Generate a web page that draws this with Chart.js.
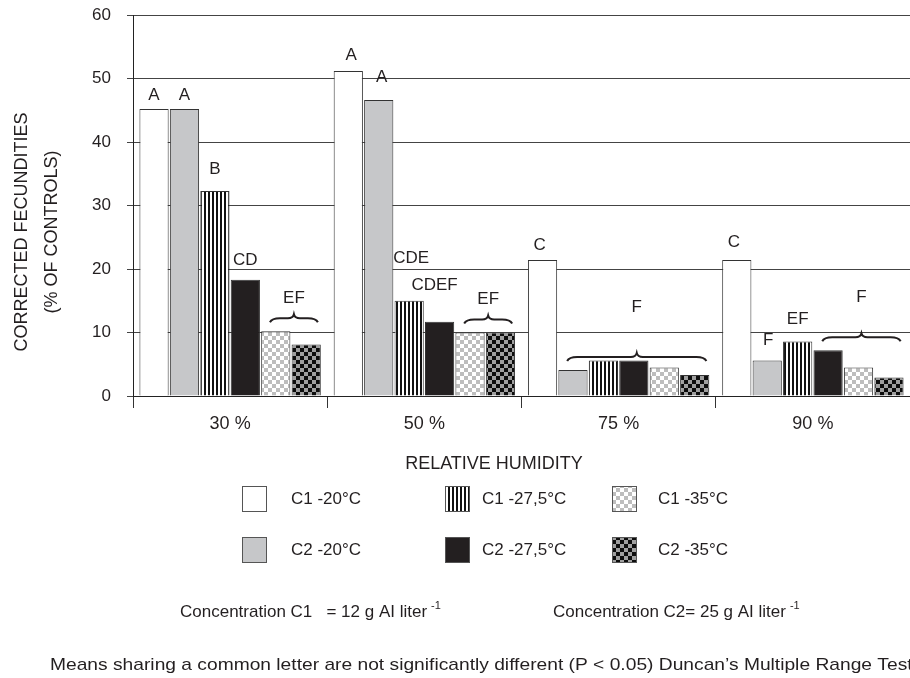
<!DOCTYPE html>
<html>
<head>
<meta charset="utf-8">
<script src="https://cdn.jsdelivr.net/npm/chart.js@4.4.1/dist/chart.umd.min.js"></script>
<style>
  body { margin: 0; background: #fff; overflow: hidden; }
  canvas { display: block; }
</style>
</head>
<body>
<canvas id="grafico" width="910" height="678"></canvas>
<script>
// datos
const humedades = ['30 %', '50 %', '75 %', '90 %'];
const nombres = ['C1 -20°C', 'C2 -20°C', 'C1 -27,5°C', 'C2 -27,5°C', 'C1 -35°C', 'C2 -35°C'];
const c1_20 = [45.2, 51.2, 21.4, 21.4];
const c2_20 = [45.2, 46.6, 4.1, 5.6];
const c1_275 = [32.3, 15.0, 5.6, 8.6];
const c2_275 = [18.3, 11.7, 5.6, 7.2];
const c1_35 = [10.2, 10.0, 4.5, 4.5];
const c2_35 = [8.1, 10.0, 3.3, 2.9];
const marcasY = [0, 10, 20, 30, 40, 50, 60];

// letras de Duncan: categoria, barras que cubre, texto
const letras = [
  { cat: 0, barras: [0], texto: 'A' },
  { cat: 0, barras: [1], texto: 'A' },
  { cat: 0, barras: [2], texto: 'B' },
  { cat: 0, barras: [3], texto: 'CD' },
  { cat: 0, barras: [4, 5], texto: 'EF' },
  { cat: 1, barras: [0], texto: 'A' },
  { cat: 1, barras: [1], texto: 'A' },
  { cat: 1, barras: [2], texto: 'CDE' },
  { cat: 1, barras: [3], texto: 'CDEF' },
  { cat: 1, barras: [4, 5], texto: 'EF' },
  { cat: 2, barras: [0], texto: 'C' },
  { cat: 2, barras: [1, 5], texto: 'F' },
  { cat: 3, barras: [0], texto: 'C' },
  { cat: 3, barras: [1], texto: 'F' },
  { cat: 3, barras: [2], texto: 'EF' },
  { cat: 3, barras: [3, 5], texto: 'F' }
];
// separacion de cada letra sobre su barra (px) y desplazamiento horizontal
const alturaLetra = [14, 14, 22, 19, 33, 16, 23, 42, 36, 33, 15, 63, 18, 20, 22, 53];
const corrimiento = [0, 0, 0, 0, 0, 3, 3, 2, -5, 0, -3, 0, -3, 1, 0, 0];

const ctx = document.getElementById('grafico').getContext('2d');
const fuente = '"Liberation Sans", Arial, sans-serif';
const tinta = '#231f20';

function patron(ancho, alto, dibujar) {
  const c = document.createElement('canvas');
  c.width = ancho;
  c.height = alto;
  dibujar(c.getContext('2d'));
  return ctx.createPattern(c, 'repeat');
}

const rayas = patron(4, 4, g => {
  g.fillStyle = '#fff'; g.fillRect(0, 0, 4, 4);
  g.fillStyle = '#111'; g.fillRect(0, 0, 2, 4);
});
const cuadrosClaros = patron(8, 8, g => {
  g.fillStyle = '#fff'; g.fillRect(0, 0, 8, 8);
  g.fillStyle = '#bdbdbd'; g.fillRect(0, 0, 4, 4); g.fillRect(4, 4, 4, 4);
});
const cuadrosOscuros = patron(8, 8, g => {
  g.fillStyle = '#9f9f9f'; g.fillRect(0, 0, 8, 8);
  g.fillStyle = '#0d0d0d'; g.fillRect(0, 0, 4, 4); g.fillRect(4, 4, 4, 4);
});

const valores = [c1_20, c2_20, c1_275, c2_275, c1_35, c2_35];
const rellenos = ['#ffffff', '#c6c7c9', rayas, tinta, cuadrosClaros, cuadrosOscuros];

function llave(g, x1, x2, y) {
  const m = (x1 + x2) / 2;
  g.beginPath();
  g.moveTo(x1, y + 4);
  g.quadraticCurveTo(x1 + 2, y, x1 + 10, y);
  g.lineTo(m - 6, y);
  g.quadraticCurveTo(m - 1, y, m, y - 4);
  g.quadraticCurveTo(m + 1, y, m + 6, y);
  g.lineTo(x2 - 10, y);
  g.quadraticCurveTo(x2 - 2, y, x2, y + 4);
  g.stroke();
}

function textoSuper(g, x, y, base, sup) {
  g.font = '17px ' + fuente;
  g.textAlign = 'left';
  g.fillText(base, x, y);
  const w = g.measureText(base).width;
  g.font = '11px ' + fuente;
  g.fillText(sup, x + w + 4, y - 6);
}

const anotaciones = {
  id: 'anotaciones',
  afterDraw(chart) {
    const g = chart.ctx;
    g.save();
    g.fillStyle = tinta;
    g.strokeStyle = tinta;
    g.textBaseline = 'middle';
    g.textAlign = 'center';

    // letras y llaves
    letras.forEach((l, i) => {
      const barras = l.barras.map(b => chart.getDatasetMeta(b).data[l.cat]);
      const tope = Math.min(...barras.map(b => b.y));
      g.font = '17px ' + fuente;
      if (barras.length > 1) {
        const izq = barras[0].x - barras[0].width * 0.2;
        const der = barras[barras.length - 1].x + barras[barras.length - 1].width * 0.4;
        g.lineWidth = 2;
        llave(g, izq, der, tope - 13);
        g.fillText(l.texto, (izq + der) / 2, tope - alturaLetra[i]);
      } else {
        g.fillText(l.texto, barras[0].x + corrimiento[i], tope - alturaLetra[i]);
      }
    });

    // titulos de los ejes
    g.font = '18px ' + fuente;
    g.save();
    g.translate(22, 232);
    g.rotate(-Math.PI / 2);
    g.fillText('CORRECTED FECUNDITIES', 0, 0);
    g.fillText('(% OF CONTROLS)', 0, 30);
    g.restore();
    g.fillText('RELATIVE HUMIDITY', 494, 464);

    // leyenda en dos filas
    const columnas = [[242, 291], [445, 482], [612, 658]];
    const filas = [498, 549];
    const orden = [0, 2, 4, 1, 3, 5];
    orden.forEach((d, k) => {
      const col = columnas[k % 3];
      const fy = filas[Math.floor(k / 3)];
      g.fillStyle = rellenos[d];
      g.fillRect(col[0], fy - 12, 24, 25);
      g.lineWidth = 1;
      g.strokeStyle = '#555';
      g.strokeRect(col[0] + 0.5, fy - 11.5, 24, 25);
      g.fillStyle = tinta;
      g.textAlign = 'left';
      g.font = '17px ' + fuente;
      g.fillText(nombres[d], col[1], fy + 1);
    });

    // notas al pie
    textoSuper(g, 180, 612, 'Concentration C1   = 12 g AI liter', '-1');
    textoSuper(g, 553, 612, 'Concentration C2= 25 g AI liter', '-1');
    g.save();
    g.translate(50, 665);
    g.scale(1.13, 1);
    g.font = '17px ' + fuente;
    g.textAlign = 'left';
    g.fillText('Means sharing a common letter are not significantly different (P < 0.05) Duncan\u2019s Multiple Range Test', 0, 0);
    g.restore();
    g.restore();
  }
};

new Chart(ctx, {
  type: 'bar',
  data: {
    labels: humedades,
    datasets: valores.map((v, i) => ({
      label: nombres[i],
      data: v,
      backgroundColor: rellenos[i],
      borderColor: '#333',
      borderWidth: 1,
      categoryPercentage: 0.94,
      barPercentage: 0.96
    }))
  },
  options: {
    responsive: false,
    animation: false,
    devicePixelRatio: 1,
    layout: { autoPadding: false, padding: { top: 15, right: 0, bottom: 242, left: 0 } },
    plugins: { legend: { display: false }, tooltip: { enabled: false } },
    scales: {
      x: {
        grid: { drawOnChartArea: false, tickLength: 12, color: '#333' },
        border: { color: '#222' },
        ticks: { color: tinta, font: { family: fuente, size: 18 }, padding: 5 },
        afterFit: s => { s.height = 40; s.paddingLeft = 0; s.paddingRight = 0; }
      },
      y: {
        min: 0,
        max: 60,
        afterBuildTicks: s => { s.ticks = marcasY.map(v => ({ value: v })); },
        ticks: { color: tinta, font: { family: fuente, size: 17 }, padding: 16 },
        grid: { color: '#444', tickLength: 6 },
        border: { color: '#222' },
        afterFit: s => { s.width = 133; s.paddingTop = 0; s.paddingBottom = 0; }
      }
    }
  },
  plugins: [anotaciones]
});
</script>
</body>
</html>
